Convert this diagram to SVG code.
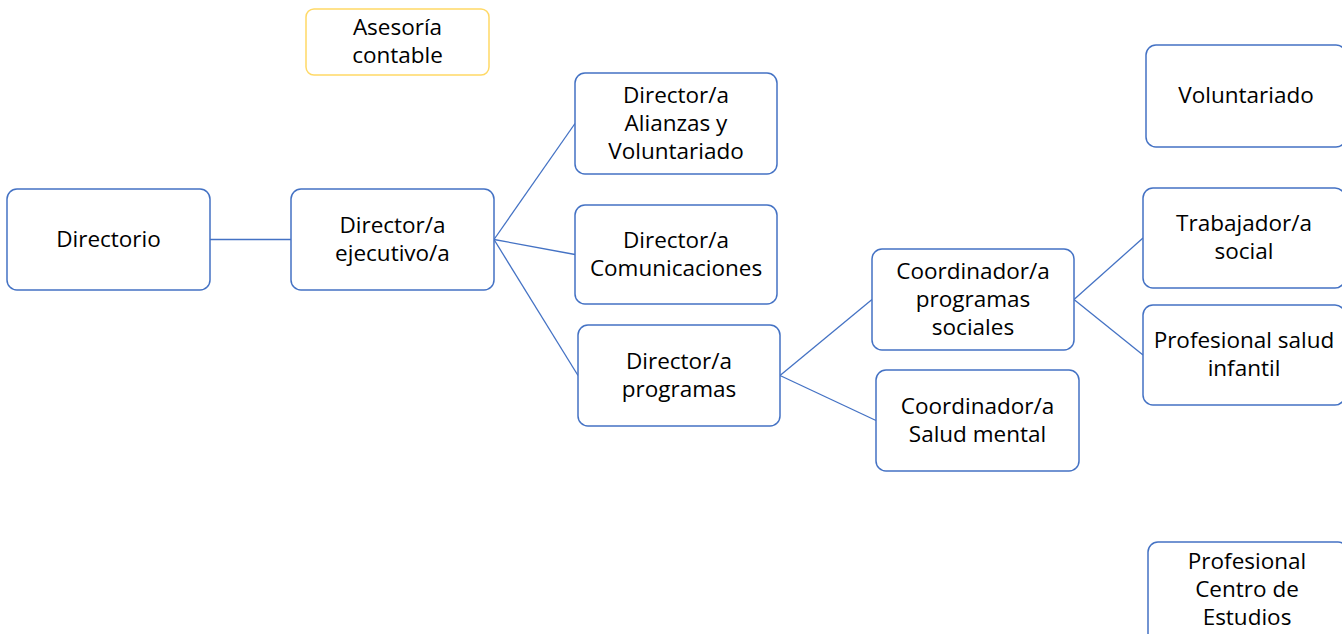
<svg xmlns="http://www.w3.org/2000/svg" width="1342" height="634" viewBox="0 0 1342 634">
<style>
.b{fill:#fff;stroke:#4472C4;stroke-width:1.5}
.y{fill:#fff;stroke:#FFD966;stroke-width:1.5}
.t{font-family:"Open Sans","Liberation Sans",Arial,sans-serif;font-size:22.5px;fill:#000;text-anchor:middle}
.c{stroke:#4472C4;stroke-width:1.3;fill:none}
</style>
<rect width="1342" height="634" fill="#fff"/>
<g id="connectors">
<line class="c" x1="210" y1="239.5" x2="291" y2="239.5"/>
<line class="c" x1="494" y1="239.5" x2="575" y2="123.5"/>
<line class="c" x1="494" y1="239.5" x2="575" y2="254.5"/>
<line class="c" x1="494" y1="239.5" x2="578" y2="375.5"/>
<line class="c" x1="780" y1="375.5" x2="872" y2="299.5"/>
<line class="c" x1="780" y1="375.5" x2="876" y2="420.5"/>
<line class="c" x1="1074" y1="299.5" x2="1143" y2="238"/>
<line class="c" x1="1074" y1="299.5" x2="1143" y2="355"/>
</g>
<g id="asesoria"><rect class="y" x="306" y="9" width="183" height="66" rx="8"/><text class="t" x="397.5" y="35">Asesoría</text><text class="t" x="397.5" y="63">contable</text></g>
<g id="directorio"><rect class="b" x="7" y="189" width="203" height="101" rx="10"/><text class="t" x="108.5" y="246.5">Directorio</text></g>
<g id="ejecutivo"><rect class="b" x="291" y="189" width="203" height="101" rx="10"/><text class="t" x="392.5" y="232.5">Director/a</text><text class="t" x="392.5" y="260.5">ejecutivo/a</text></g>
<g id="alianzas"><rect class="b" x="575" y="73" width="202" height="101" rx="10"/><text class="t" x="676" y="102.5">Director/a</text><text class="t" x="676" y="130.5">Alianzas y</text><text class="t" x="676" y="158.5">Voluntariado</text></g>
<g id="comunicaciones"><rect class="b" x="575" y="205" width="202" height="99" rx="10"/><text class="t" x="676" y="247.5">Director/a</text><text class="t" x="676" y="275.5">Comunicaciones</text></g>
<g id="programas"><rect class="b" x="578" y="325" width="202" height="101" rx="10"/><text class="t" x="679" y="368.5">Director/a</text><text class="t" x="679" y="396.5">programas</text></g>
<g id="coord-sociales"><rect class="b" x="872" y="249" width="202" height="101" rx="10"/><text class="t" x="973" y="278.5">Coordinador/a</text><text class="t" x="973" y="306.5">programas</text><text class="t" x="973" y="334.5">sociales</text></g>
<g id="coord-salud"><rect class="b" x="876" y="370" width="203" height="101" rx="10"/><text class="t" x="977.5" y="413.5">Coordinador/a</text><text class="t" x="977.5" y="441.5">Salud mental</text></g>
<g id="voluntariado"><rect class="b" x="1146" y="45" width="200" height="102" rx="10"/><text class="t" x="1246" y="103">Voluntariado</text></g>
<g id="trabajador"><rect class="b" x="1143" y="188" width="202" height="100" rx="10"/><text class="t" x="1244" y="231">Trabajador/a</text><text class="t" x="1244" y="259">social</text></g>
<g id="salud-infantil"><rect class="b" x="1143" y="305" width="202" height="100" rx="10"/><text class="t" x="1244" y="348">Profesional salud</text><text class="t" x="1244" y="376">infantil</text></g>
<g id="centro-estudios"><rect class="b" x="1148" y="542" width="200" height="101" rx="10"/><text class="t" x="1247" y="569">Profesional</text><text class="t" x="1247" y="597">Centro de</text><text class="t" x="1247" y="625">Estudios</text></g>
</svg>
